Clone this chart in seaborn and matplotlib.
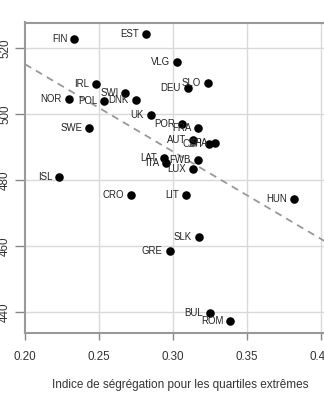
import numpy as np
import pandas as pd
import matplotlib
matplotlib.use("Agg")
import matplotlib.pyplot as plt
import seaborn as sns

countries = ["FIN", "EST", "VLG", "DEU", "SLO", "IRL", "SWI", "NOR", "POL", "DNK",
             "UK", "SWE", "POR", "FRA", "AUT", "CZH", "SPA", "LAT", "ITA", "FWB",
             "LUX", "ISL", "CRO", "LIT", "HUN", "SLK", "GRE", "BUL", "ROM"]
segregation = [0.2333, 0.2818, 0.3025, 0.3099, 0.3234, 0.2478, 0.2678, 0.2297, 0.2536, 0.2748,
               0.2849, 0.2435, 0.3059, 0.3169, 0.3137, 0.3243, 0.3282, 0.2937, 0.2955, 0.3167,
               0.3135, 0.2232, 0.2714, 0.3088, 0.3820, 0.3173, 0.2977, 0.3250, 0.3387]
score = [522.8, 524.3, 515.8, 508.1, 509.5, 509.1, 506.5, 504.5, 504.0, 504.3,
         499.9, 495.9, 497.0, 495.8, 492.3, 490.9, 491.4, 486.8, 485.2, 486.0,
         483.3, 481.0, 475.4, 475.4, 474.3, 462.9, 458.4, 439.6, 437.4]

df = pd.DataFrame({"pays": countries, "seg": segregation, "score": score})

sns.set_theme(style="white")
plt.rcParams["font.family"] = ["Liberation Sans", "DejaVu Sans"]

fig = plt.figure(figsize=(3.24, 4.0), dpi=100)
ax = fig.add_axes([25/324, 1-332.5/400, (336-25)/324, (332.5-22.5)/400])

ax.set_xlim(0.2, 0.2 + (336-25)/1480)
ax.set_ylim(440 - (332.5-312)/3.29, 520 + (48.3-22.5)/3.29)

for v in [0.25, 0.30, 0.35, 0.40]:
    ax.axvline(v, color="#d9d9d9", lw=1, zorder=0)
for v in [440, 460, 480, 500, 520]:
    ax.axhline(v, color="#d9d9d9", lw=1, zorder=0)

sns.regplot(data=df, x="seg", y="score", ax=ax, scatter=False, ci=None, truncate=False,
            line_kws=dict(color="#999999", lw=1.3, ls=(0, (4, 3))))
sns.scatterplot(data=df, x="seg", y="score", ax=ax, color="black", s=38,
                edgecolor="black", linewidth=0, zorder=3)
ax.set_xlim(0.2, 0.2 + (336-25)/1480)

for _, r in df.iterrows():
    ax.annotate(r["pays"], (r["seg"], r["score"]), xytext=(-5, 0), textcoords="offset points",
                ha="right", va="center", fontsize=6.9, color="#222222")

ax.set_xticks([0.20, 0.25, 0.30, 0.35, 0.40])
ax.set_xticklabels(["0.20", "0.25", "0.30", "0.35", "0.40"])
ax.set_yticks([440, 460, 480, 500, 520])
ax.set_yticklabels(["440", "460", "480", "500", "520"], rotation=90, va="center")
ax.tick_params(axis="x", direction="out", length=5, width=1, color="#888888",
               labelsize=8.4, labelcolor="#333333", pad=8, bottom=True)
ax.tick_params(axis="y", direction="out", length=7, width=1, color="#888888",
               labelsize=8.4, labelcolor="#333333", pad=3, left=True)
for s in ["top", "left", "bottom"]:
    ax.spines[s].set_color("#999999")
    ax.spines[s].set_linewidth(1.5)
ax.spines["right"].set_visible(False)
ax.set_xlabel("Indice de ségrégation pour les quartiles extrêmes", fontsize=8.5,
              color="#333333", labelpad=12)
ax.set_ylabel("")

fig.savefig("out.png", dpi=100)
